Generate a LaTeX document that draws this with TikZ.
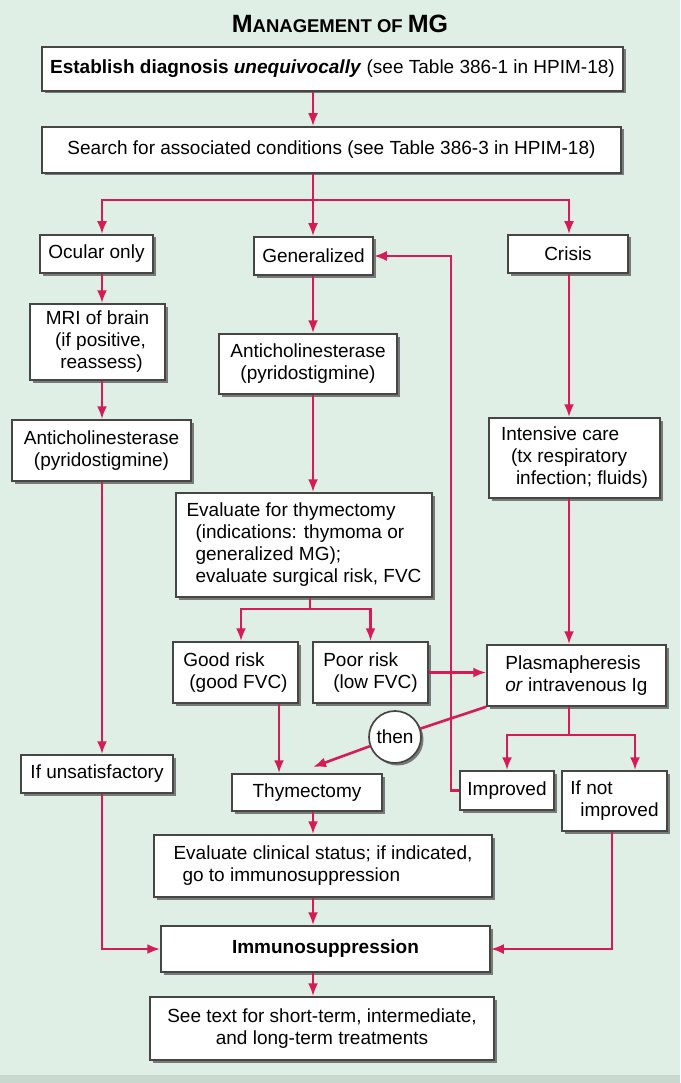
\documentclass[tikz,border=0pt]{standalone}
\usepackage{fontspec}
\setmainfont{Liberation Sans}
\usetikzlibrary{arrows.meta,shadows,calc}
\definecolor{bgc}{RGB}{224,239,230}
\definecolor{bandc}{RGB}{200,216,207}
\definecolor{arrc}{RGB}{214,28,84}
\definecolor{brd}{RGB}{70,70,70}
\begin{document}
\begin{tikzpicture}[x=1pt,y=-1pt,
  box/.style={draw=brd,line width=1.5pt,fill=white,inner xsep=6pt,inner ysep=2pt,
    font=\fontsize{19}{22}\selectfont,
    drop shadow={shadow xshift=2.5pt,shadow yshift=-2.5pt,fill=black!60,opacity=0.85}},
  wh/.style 2 args={minimum width=#1pt,minimum height=#2pt},
  ln/.style={draw=arrc,line width=2.6pt},
  arr/.style={ln,-{Latex[length=13pt,width=10pt]}}]
\useasboundingbox (0,0) rectangle (680,1083);
\fill[bgc] (0,0) rectangle (680,1083);
\fill[bandc] (0,1075) rectangle (680,1083);

\node[font=\bfseries] (title) at (340,24)
  {\fontsize{25}{25}\selectfont M\fontsize{18.5}{18.5}\selectfont ANAGEMENT OF \fontsize{25}{25}\selectfont MG};

\node[box,wh={581}{44}] (diag) at (332.5,69)
  {\textbf{Establish diagnosis \textit{unequivocally}} (see Table 386-1 in HPIM-18)};
\node[box,wh={579}{46}] (search) at (331.5,150)
  {Search for associated conditions (see Table 386-3 in HPIM-18)};

\node[box,wh={113}{38}] (ocular) at (96.5,254) {Ocular only};
\node[box,wh={119}{38}] (gen) at (313.5,256) {Generalized};
\node[box,wh={120}{38}] (crisis) at (568,254) {Crisis};

\node[box,wh={135}{76},align=center] (mri) at (97.5,342) {MRI of brain\\\hspace*{6pt}(if positive,\\\hspace*{8pt}reassess)};
\node[box,wh={179}{61},align=center] (achL) at (101.5,450.5) {Anticholinesterase\\(pyridostigmine)};
\node[box,wh={178}{60},align=center] (achM) at (308,364) {Anticholinesterase\\(pyridostigmine)};
\node[box,wh={256}{104},align=left,inner xsep=4pt] (evalT) at (304,545)
  {Evaluate for thymectomy\\\hspace*{9pt}(indications: thymoma or\\\hspace*{9pt}generalized MG);\\\hspace*{9pt}evaluate surgical risk, FVC};
\node[box,wh={171}{80},align=left,inner xsep=4pt] (icu) at (574.5,458)
  {Intensive care\\\hspace*{10pt}(tx respiratory\\\hspace*{15pt}infection; fluids)};

\node[box,wh={125}{61},align=left] (good) at (235.5,672.5) {Good risk\\\hspace*{6pt}(good FVC)};
\node[box,wh={115}{61},align=left] (poor) at (370.5,672.5) {Poor risk\\\hspace*{10pt}(low FVC)};
\node[box,wh={179}{61},align=left,inner xsep=4pt] (plasma) at (576.5,675.5) {Plasmapheresis\\\textit{or} intravenous Ig};

\node[box,circle,minimum size=52pt,inner sep=0pt,line width=1.7pt] (then) at (395,737) {then};

\node[box,wh={152}{38},inner xsep=3pt] (unsat) at (97,774) {If unsatisfactory};
\node[box,wh={150}{37}] (thym) at (307,792.5) {Thymectomy};
\node[box,wh={94}{39},inner xsep=2pt] (impr) at (507,790.5) {Improved};
\node[box,wh={105}{60},align=left,inner xsep=2pt] (notimpr) at (614.5,801) {If not\\\hspace*{10pt}improved};

\node[box,wh={338}{62},align=left,inner xsep=4pt] (evalC) at (323,866)
  {Evaluate clinical status; if indicated,\\\hspace*{9pt}go to immunosuppression};
\node[box,wh={329}{46}] (immuno) at (325.5,949) {\textbf{Immunosuppression}};
\node[box,wh={344}{63},align=center,inner xsep=4pt] (see) at (322,1028.5)
  {See text for short-term, intermediate,\\and long-term treatments};

% guide coordinates
\coordinate (sp) at (313,0);
\coordinate (colL) at (102,0);
\coordinate (colC) at (569,0);
\coordinate (colN) at (635,0);
\coordinate (colR) at (612,0);
\coordinate (ret) at (451,0);
\coordinate (fk) at (310,0);
\coordinate (gA) at (241,0);
\coordinate (gB) at (279,0);
\coordinate (b1) at (0,200);
\coordinate (b2) at (0,609);
\coordinate (b3) at (0,735);
\coordinate (tt) at (313,767);

% connectors
\draw[arr] (diag.south -| sp) -- (search.north -| sp);
\draw[ln] (search.south -| sp) -- (sp |- b1);
\draw[arr] (sp |- b1) -| (ocular.north -| colL);
\draw[arr] (sp |- b1) -- (gen.north -| sp);
\draw[arr] (sp |- b1) -| (crisis.north -| colC);

\draw[arr] (ocular.south -| colL) -- (mri.north -| colL);
\draw[arr] (mri.south -| colL) -- (achL.north -| colL);
\draw[arr] (achL.south -| colL) -- (unsat.north -| colL);
\draw[arr] (unsat.south -| colL) |- (immuno.west);

\draw[arr] (gen.south -| sp) -- (achM.north -| sp);
\draw[arr] (achM.south -| sp) -- (evalT.north -| sp);
\draw[ln] (evalT.south -| fk) -- (fk |- b2);
\draw[arr] (fk |- b2) -| (good.north -| gA);
\draw[arr] (fk |- b2) -| (poor.north);
\draw[arr] (good.south -| gB) -- (thym.north -| gB);
\draw[arr] (poor.east) -- (poor.east -| plasma.west);

\draw[arr] (crisis.south -| colC) -- (icu.north -| colC);
\draw[arr] (icu.south -| colC) -- (plasma.north -| colC);
\draw[ln] (plasma.south -| colC) -- (colC |- b3);
\draw[arr] (colC |- b3) -| (impr.north);
\draw[arr] (colC |- b3) -| (notimpr.north -| colN);

\draw[ln] (plasma.south west) -- (then);
\draw[arr] (then) -- (tt);

\draw[arr] (impr.west) -| (ret |- gen.east) -- (gen.east);
\draw[arr] (notimpr.south -| colR) |- (immuno.east);

\draw[arr] (thym.south -| sp) -- (evalC.north -| sp);
\draw[arr] (evalC.south -| sp) -- (immuno.north -| sp);
\draw[arr] (immuno.south -| sp) -- (see.north -| sp);
\end{tikzpicture}
\end{document}
